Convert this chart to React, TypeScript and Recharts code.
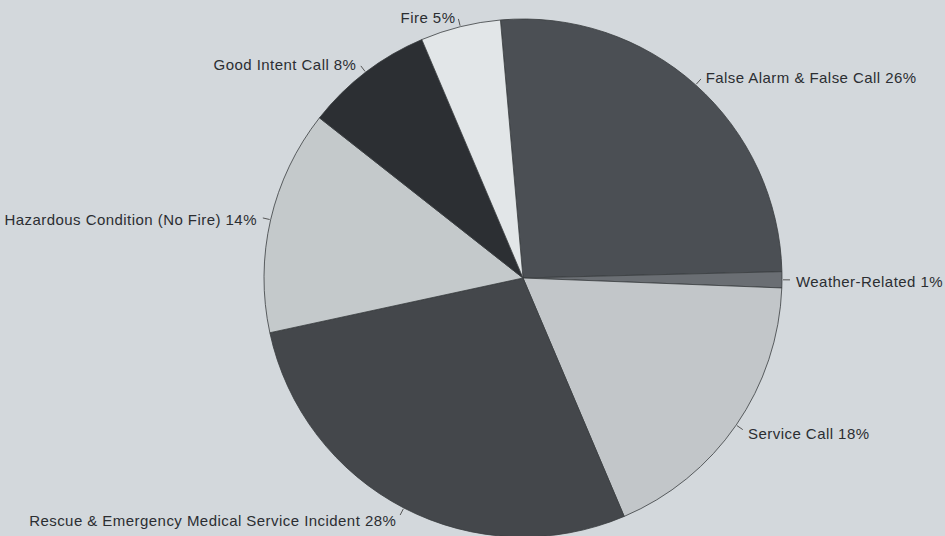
import { PieChart, Pie, Cell } from 'recharts';

const categories = [
  'False Alarm & False Call',
  'Weather-Related',
  'Service Call',
  'Rescue & Emergency Medical Service Incident',
  'Hazardous Condition (No Fire)',
  'Good Intent Call',
  'Fire',
];
const shares = [26, 1, 18, 28, 14, 8, 5];
const colors = ['#4b4f54', '#6a6e73', '#c2c6c9', '#44474b', '#c4c9cb', '#2c2f33', '#e2e6e8'];

const data = categories.map((name, i) => ({ name, value: shares[i] }));

const RAD = Math.PI / 180;

function renderLabel(props: any) {
  const { cx, cy, midAngle, outerRadius, name, value } = props;
  const cos = Math.cos(-midAngle * RAD);
  const sin = Math.sin(-midAngle * RAD);
  const x1 = cx + (outerRadius + 1) * cos;
  const y1 = cy + (outerRadius + 1) * sin;
  const x2 = cx + (outerRadius + 8) * cos;
  const y2 = cy + (outerRadius + 8) * sin;
  const tx = cx + (outerRadius + 12) * cos;
  const ty = cy + (outerRadius + 12) * sin;
  const right = cos >= 0;
  return (
    <g>
      <line x1={x1} y1={y1} x2={x2} y2={y2} stroke="#555" strokeWidth={1} />
      <text
        x={right ? tx + 2 : tx - 2}
        y={ty + 2}
        textAnchor={right ? 'start' : 'end'}
        dominantBaseline="central"
        fill="#2b2e32"
        fontSize={15}
        letterSpacing={0.45}
        fontFamily="Liberation Sans, Arial, sans-serif"
      >
        {`${name} ${value}%`}
      </text>
    </g>
  );
}

export default function App() {
  return (
    <div style={{ position: 'fixed', left: 0, top: 0, width: 945, height: 536, background: '#d3d8dc' }}>
      <PieChart width={945} height={536} margin={{ top: 0, right: 0, bottom: 0, left: 0 }}>
        <Pie
          data={data}
          dataKey="value"
          nameKey="name"
          cx={523}
          cy={278}
          outerRadius={259}
          startAngle={95}
          endAngle={-265}
          stroke="#3a3d40"
          strokeWidth={0.8}
          label={renderLabel}
          labelLine={false}
          isAnimationActive={false}
        >
          {data.map((d, i) => (
            <Cell key={d.name} fill={colors[i]} />
          ))}
        </Pie>
      </PieChart>
    </div>
  );
}
